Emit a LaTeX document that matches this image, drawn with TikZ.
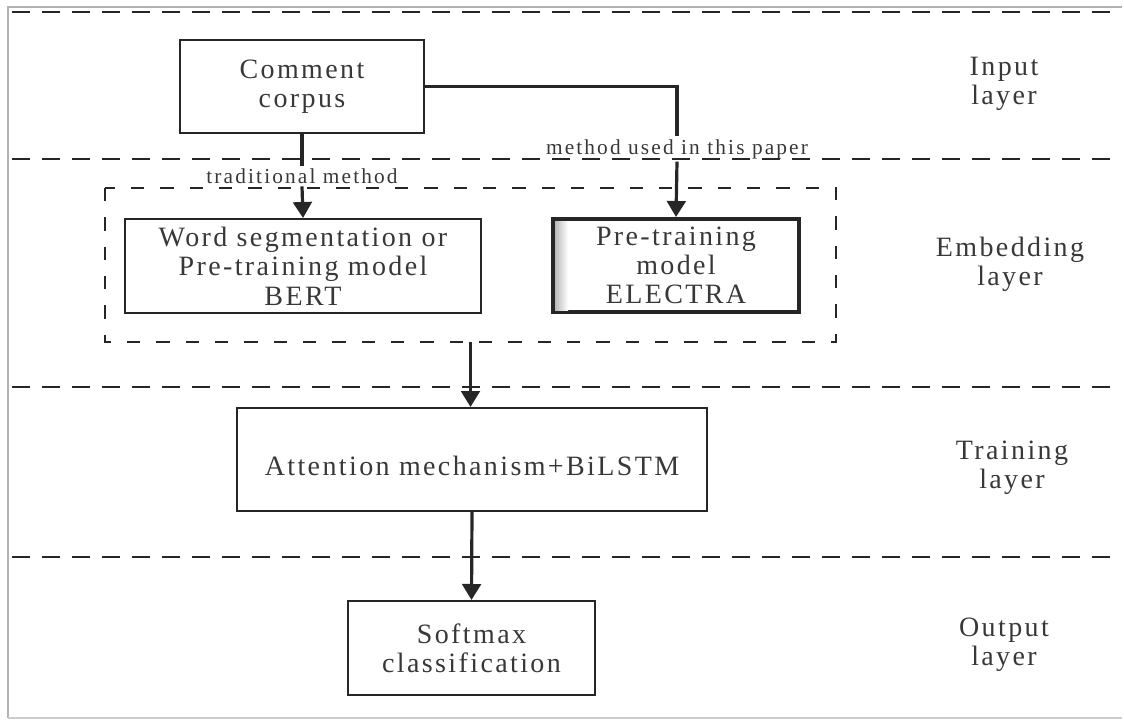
\documentclass[tikz,border=0pt]{standalone}
\usepackage{fontspec}
\setmainfont{Liberation Serif}
\newfontfamily\mainf[LetterSpace=8.5]{Liberation Serif}
\newfontfamily\smallf[LetterSpace=10]{Liberation Serif}
\usetikzlibrary{arrows.meta}
\definecolor{ink}{HTML}{262626}
\definecolor{txt}{HTML}{383838}
\begin{document}
\begin{tikzpicture}[x=0.75pt,y=-0.75pt,
  font=\mainf\fontsize{21}{22}\selectfont, text=txt,
  box/.style={draw=ink, line width=1.5pt, inner sep=0pt, align=center},
  thickbox/.style={draw=ink, line width=3pt, inner sep=0pt, align=center},
  arr/.style={draw=ink, line width=2.4pt, -{Triangle[length=12pt,width=14pt]}},
  plain/.style={draw=ink, line width=2.4pt},
  lbl/.style={font=\smallf\fontsize{16}{17}\selectfont, inner sep=2pt},
  layer/.style={align=center},
  sep/.style={draw=ink, line width=1.5pt, dash pattern=on 13.5pt off 9pt},
  grp/.style={draw=ink, line width=1pt, dash pattern=on 10pt off 12pt},
  frame/.style={draw=gray!60, line width=0.8pt}]
\useasboundingbox (0,0) rectangle (1124,724);
% outer frame
\draw[frame] (1122,7) -- (8,7) -- (8,718);
\draw[frame, gray!40] (8,718) -- (1122,718);
% layer separators
\draw[sep] (12,12) -- (1120,12);
\draw[sep] (12,159) -- (1120,159);
\draw[sep] (12,387) -- (1120,387);
\draw[sep] (12,557) -- (1120,557);
% embedding group
\draw[grp] (105,188) rectangle (836,342);
% nodes
\node[box, minimum width=183pt, minimum height=69.75pt] (cc) at (302,86.5) {Comment\\corpus};
\node[box, minimum width=267pt, minimum height=70.5pt] (ws) at (303,266) {Word segmentation or\\Pre-training model\\BERT};
\node[thickbox, minimum width=184.5pt, minimum height=69.75pt, fill=white] (el) at (676,265.5) {};
\shade[left color=gray!55, right color=white] (555,221) rectangle (568,310);
\node[align=center] (elt) at (676,265.5) {Pre-training\\model\\ELECTRA};
\node[box, minimum width=352.5pt, minimum height=77.25pt] (att) at (472,459.5) {};
\node (attt) at (472,466) {Attention mechanism+BiLSTM};
\node[box, minimum width=185.25pt, minimum height=70.5pt] (sm) at (471.5,648) {Softmax\\classification};
\coordinate (grpS) at (470.5,342);
% labels on connectors
\node[lbl] (m) at (677,149) {method used in this paper};
\node[lbl] (t) at (302,176) {traditional method};
% connectors
\draw[plain] (cc.east) -| (m.north);
\draw[arr] (m.south) -- (el.north);
\draw[plain] (cc.south) -- (t.north);
\draw[arr] (t.south) -- (ws.north);
\draw[arr] (grpS) -- (grpS|-att.north);
\draw[arr] (att.south) -- (sm.north);
% layer names
\node[layer] (l1) at (1004,84) {Input\\layer};
\node[layer] (l2) at (1010,264) {Embedding\\layer};
\node[layer] (l3) at (1012,468) {Training\\layer};
\node[layer] (l4) at (1004,645) {Output\\layer};
\end{tikzpicture}
\end{document}
